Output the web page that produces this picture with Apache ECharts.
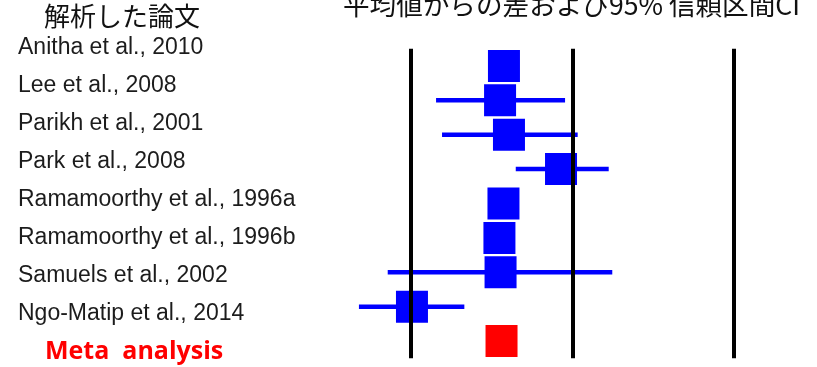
<!DOCTYPE html>
<html>
<head>
<meta charset="utf-8">
<script src="https://cdn.jsdelivr.net/npm/echarts@6/dist/echarts.min.js"></script>
<style>
  html, body { margin: 0; padding: 0; background: #fff; }
  #chart { width: 817px; height: 367px; }
</style>
</head>
<body>
<div id="chart"></div>
<script>
// Studies included in the meta-analysis (top to bottom)
const studies = [
  'Anitha et al., 2010',
  'Lee et al., 2008',
  'Parikh et al., 2001',
  'Park et al., 2008',
  'Ramamoorthy et al., 1996a',
  'Ramamoorthy et al., 1996b',
  'Samuels et al., 2002',
  'Ngo-Matip et al., 2014',
  'Meta  analysis'
];
// Difference from the mean (point estimate)
const estimate = [-0.424, -0.448, -0.393, -0.071, -0.427, -0.452, -0.445, -0.993, -0.439];
// 95% confidence interval bounds
const ciLow  = [-0.46, -0.844, -0.807, -0.351, -0.46, -0.48, -1.143, -1.321, -0.47];
const ciHigh = [-0.39, -0.046,  0.032,  0.224, -0.40, -0.42,  0.246, -0.669, -0.41];
// Reference lines on the difference scale
const refLines = [-1, 0, 1];

const chart = echarts.init(document.getElementById('chart'));

const n = studies.length;
const isMeta = i => i === n - 1;

chart.setOption({
  animation: false,
  graphic: [
    {
      type: 'text', x: 122, y: 16,
      style: {
        text: '解析した論文', fill: '#111',
        font: '26px "Noto Sans CJK JP"',
        textAlign: 'center', textVerticalAlign: 'middle'
      }
    },
    {
      type: 'text', x: 343, y: 4.5,
      style: {
        text: '平均値からの差および95% 信頼区間CI', fill: '#111',
        font: '26.6px "Noto Sans CJK JP"',
        textAlign: 'left', textVerticalAlign: 'middle'
      }
    }
  ],
  grid: [
    { left: 330, right: 2, top: 48.8, bottom: 8.8 },
    { left: 18, width: 1, top: 47.5, bottom: 15.5 }
  ],
  xAxis: [
    { gridIndex: 0, type: 'value', min: -1.5, max: 1.5, show: false },
    { gridIndex: 1, type: 'value', min: 0, max: 1, show: false }
  ],
  yAxis: [
    { gridIndex: 0, type: 'category', data: studies, inverse: true, show: false },
    {
      gridIndex: 1, type: 'category', data: studies, inverse: true,
      boundaryGap: false,
      axisLine: { show: false }, axisTick: { show: false }, splitLine: { show: false },
      axisLabel: {
        inside: true, margin: 0, align: 'left', interval: 0,
        fontFamily: '"Liberation Sans", Arial, sans-serif',
        fontSize: 23, color: '#1c1c1c',
        formatter: (v, i) => isMeta(i) ? '{meta|' + v + '}' : v,
        rich: {
          meta: {
            fontFamily: '"Open Sans", sans-serif', fontWeight: 'bold',
            fontSize: 25, color: '#ff0000', padding: [0, 0, 0, 27]
          }
        }
      }
    }
  ],
  series: [
    {
      // confidence interval whiskers
      type: 'custom',
      xAxisIndex: 0, yAxisIndex: 0,
      data: studies.map((s, i) => [ciLow[i], ciHigh[i], i]),
      renderItem: (params, api) => {
        const a = api.coord([api.value(0), api.value(2)]);
        const b = api.coord([api.value(1), api.value(2)]);
        return {
          type: 'line',
          shape: { x1: a[0], y1: a[1], x2: b[0], y2: b[1] },
          style: { stroke: '#0000ff', lineWidth: 4.5 }
        };
      },
      markLine: {
        silent: true, symbol: 'none', label: { show: false },
        lineStyle: { color: '#000', width: 4, type: 'solid' },
        data: refLines.map(v => ({ xAxis: v }))
      },
      z: 2
    },
    {
      // point estimates
      type: 'scatter',
      xAxisIndex: 0, yAxisIndex: 0,
      symbol: 'rect', symbolSize: 32,
      data: studies.map((s, i) => ({
        value: [estimate[i], i],
        itemStyle: { color: isMeta(i) ? '#ff0000' : '#0000ff', opacity: 1 }
      })),
      z: 3
    }
  ]
});
</script>
</body>
</html>
